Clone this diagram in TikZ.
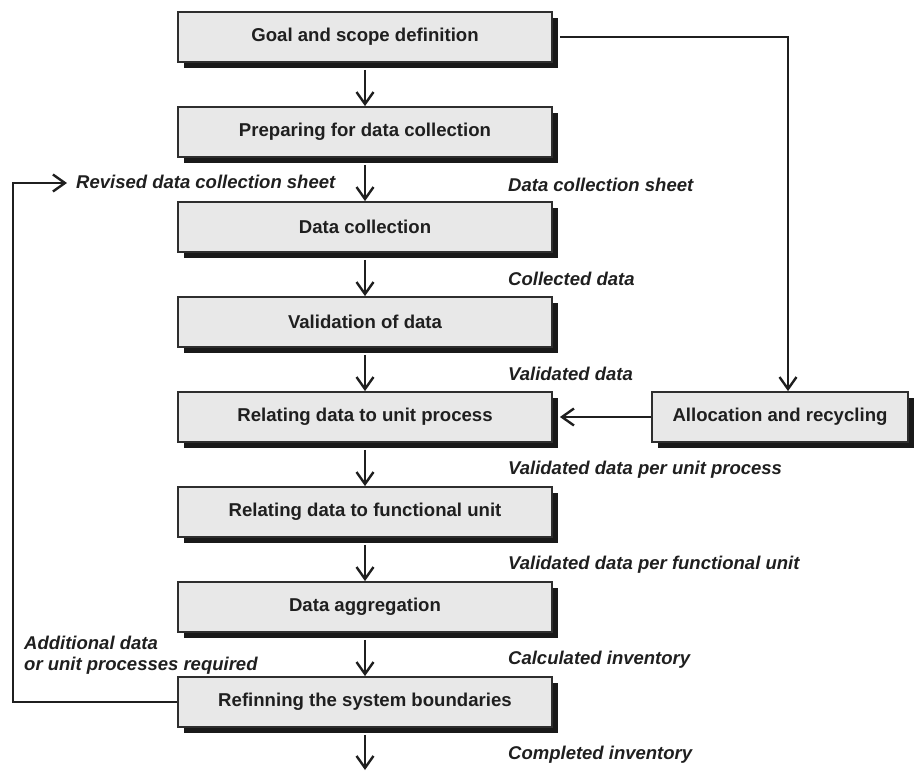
\documentclass[tikz,border=0pt]{standalone}
\usepackage{fontspec}
\setmainfont{Liberation Sans}
\usetikzlibrary{arrows.meta,shadows,calc}
\begin{document}
\begin{tikzpicture}[x=1pt,y=-1pt,
  procbox/.style={draw=black!82, line width=1.8pt, fill=black!9,
    minimum width=374pt, minimum height=50pt, inner sep=0pt,
    font=\bfseries\fontsize{18.6}{21}\selectfont, text=black!88,
    drop shadow={shadow xshift=6pt, shadow yshift=-6pt, fill=black!90, opacity=1}},
  flowarrow/.style={line width=2.4pt, draw=black!88,
    -{Straight Barb[length=12pt,width=17pt,line width=2.4pt]}},
  lbl/.style={font=\bfseries\itshape\fontsize{18.5}{21}\selectfont, text=black!88,
    anchor=west, inner sep=0pt, align=left}]
\useasboundingbox (0,0) rectangle (922,771);

\node[procbox] (b1) at (365,37)  {Goal and scope definition};
\node[procbox] (b2) at (365,132) {Preparing for data collection};
\node[procbox] (b3) at (365,227) {Data collection};
\node[procbox] (b4) at (365,322) {Validation of data};
\node[procbox] (b5) at (365,417) {Relating data to unit process};
\node[procbox] (b6) at (365,512) {Relating data to functional unit};
\node[procbox] (b7) at (365,607) {Data aggregation};
\node[procbox] (b8) at (365,702) {Refinning the system boundaries};
\node[procbox, minimum width=256pt] (alloc) at (780,417) {Allocation and recycling};

\draw[flowarrow] ([yshift=-7pt]b1.south) -- (b2.north);
\draw[flowarrow] ([yshift=-7pt]b2.south) -- (b3.north);
\draw[flowarrow] ([yshift=-7pt]b3.south) -- (b4.north);
\draw[flowarrow] ([yshift=-7pt]b4.south) -- (b5.north);
\draw[flowarrow] ([yshift=-7pt]b5.south) -- (b6.north);
\draw[flowarrow] ([yshift=-7pt]b6.south) -- (b7.north);
\draw[flowarrow] ([yshift=-7pt]b7.south) -- (b8.north);
\coordinate (endpt) at (365,770);
\draw[flowarrow] ([yshift=-7pt]b8.south) -- (endpt);

\draw[flowarrow] ([xshift=7pt]b1.east) -| ([xshift=8pt]alloc.north);
\draw[flowarrow] (alloc.west) -- ([xshift=7pt]b5.east);

\coordinate (loopc) at (13,183);
\coordinate (loopend) at (67,183);
\draw[flowarrow] (b8.west) -| (loopc) -- (loopend);

\node[lbl] (l0) at (76,182) {Revised data collection sheet};
\node[lbl] (l1) at (508,185) {Data collection sheet};
\node[lbl] (l2) at (508,279) {Collected data};
\node[lbl] (l3) at (508,374) {Validated data};
\node[lbl] (l4) at (508,470) {Validated data per unit process};
\node[lbl] (l5) at (508,565) {Validated data per functional unit};
\node[lbl] (l6) at (508,660) {Calculated inventory};
\node[lbl] (l7) at (508,755) {Completed inventory};
\node[lbl] (l8) at (24,655) {Additional data\\or unit processes required};
\end{tikzpicture}
\end{document}
